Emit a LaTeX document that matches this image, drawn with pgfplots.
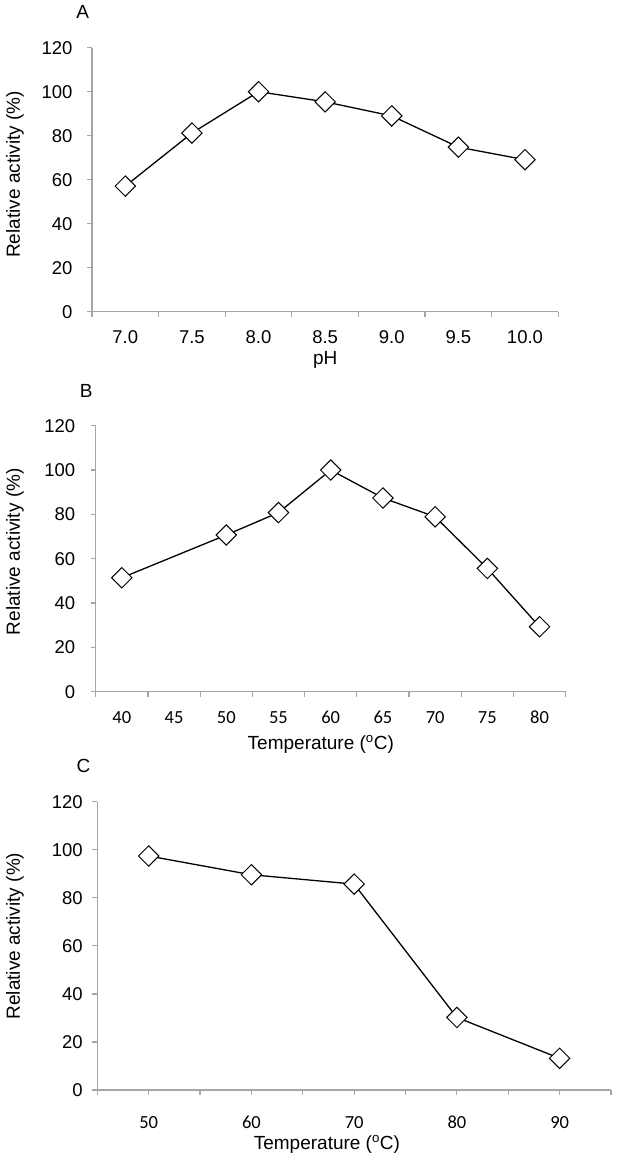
\documentclass[border=0pt]{standalone}
\usepackage{pgfplots}
\pgfplotsset{compat=1.18}
\usepackage{fontspec}
\setmainfont{Liberation Sans}
\newfontfamily\carlito{Carlito}
\definecolor{axgray}{HTML}{A6A6A6}
\newcommand{\tickfont}{\fontsize{18.5bp}{20bp}\selectfont}
\newcommand{\labfont}{\fontsize{19bp}{21bp}\selectfont}
\pgfplotsset{
  panel/.style={
    scale only axis,
    axis lines*=left,
    ymin=0, ymax=120,
    ytick={0,20,...,120},
    tick align=outside,
    major tick length=5bp,
    axis line style={draw=axgray, line width=1.2bp},
    every tick/.style={draw=axgray, line width=1.2bp},
    /pgf/number format/assume math mode=true,
    yticklabel style={font=\tickfont, text=black},
    xticklabel style={font=\tickfont, text=black},
    ylabel={Relative activity (\%)},
    label style={font=\labfont},
    clip=false,
  },
  series/.style={
    black, line width=1.3bp,
    mark=square*,
    mark size=7.2bp,
    mark options={rotate=45, fill=white, draw=black, line width=1bp},
  },
}
\begin{document}
\begin{tikzpicture}
\path[use as bounding box] (0,0) rectangle (618bp,-1158bp);

% Panel A
\begin{axis}[panel,
  at={(92bp,-311.7bp)}, anchor=south west,
  width=466.3bp, height=264bp,
  xmin=-0.5, xmax=6.5,
  xtick={-0.5,0.5,...,6.5}, xticklabels={},
  extra x ticks={0,1,2,3,4,5,6},
  extra x tick labels={7.0,7.5,8.0,8.5,9.0,9.5,10.0},
  extra x tick style={major tick length=0bp, xticklabel style={anchor=base, yshift=-31.5bp}},
  yticklabel style={xshift=-11bp},
  xlabel={pH},
  xlabel style={at={(axis description cs:0.5,0)}, anchor=center, yshift=-48.5bp},
  ylabel style={at={(axis description cs:0,0.52)}, anchor=center, yshift=77bp},
]
\addplot[series] coordinates {(0,57.1)(1,81.2)(2,100)(3,95.4)(4,89)(5,74.8)(6,69.1)};
\node[font=\labfont, anchor=center] at (axis description cs:-0.02,1.135) {A};
\end{axis}

% Panel B
\begin{axis}[panel,
  at={(95.7bp,-691.7bp)}, anchor=south west,
  width=470bp, height=266bp,
  xmin=-0.5, xmax=8.5,
  xtick={-0.5,0.5,...,8.5}, xticklabels={},
  extra x ticks={0,1,2,3,4,5,6,7,8},
  extra x tick labels={40,45,50,55,60,65,70,75,80},
  extra x tick style={major tick length=0bp, xticklabel style={font=\carlito\tickfont, anchor=base, yshift=-32bp}},
  yticklabel style={xshift=-12bp},
  xlabel={Temperature (\textsuperscript{o}C)},
  xlabel style={at={(axis description cs:0.479,0)}, anchor=center, yshift=-52.5bp},
  ylabel style={at={(axis description cs:0,0.526)}, anchor=center, yshift=80.7bp},
]
\addplot[series] coordinates {(0,51.4)(2,70.7)(3,80.8)(4,100)(5,87.4)(6,78.9)(7,55.6)(8,29.3)};
\node[font=\labfont, anchor=center] at (axis description cs:-0.02,1.13) {B};
\end{axis}

% Panel C
\begin{axis}[panel,
  at={(97.3bp,-1090bp)}, anchor=south west,
  width=513.7bp, height=288.3bp,
  xmin=45, xmax=95,
  xtick={45,50,...,95},
  xticklabels={,50,,60,,70,,80,,90,},
  xticklabel style={font=\carlito\tickfont, anchor=base, yshift=-33.5bp},
  yticklabel style={xshift=-6bp},
  xlabel={Temperature (\textsuperscript{o}C)},
  xlabel style={at={(axis description cs:0.447,0)}, anchor=center, yshift=-54.5bp},
  ylabel style={at={(axis description cs:0,0.534)}, anchor=center, yshift=82.3bp},
]
\addplot[series] coordinates {(50,97.4)(60,89.6)(70,85.7)(80,30.2)(90,13.2)};
\node[font=\labfont, anchor=center] at (axis description cs:-0.027,1.125) {C};
\end{axis}
\end{tikzpicture}
\end{document}
